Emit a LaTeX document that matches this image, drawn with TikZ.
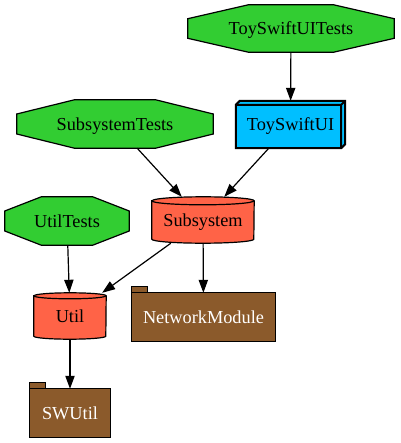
\documentclass[tikz,border=0pt]{standalone}
\usepackage{fontspec}
\setmainfont{Liberation Serif}
\usetikzlibrary{arrows.meta}
\usetikzlibrary{calc}
\usetikzlibrary{backgrounds}
\definecolor{testgreen}{HTML}{32CD32}
\definecolor{appblue}{HTML}{00BFFF}
\definecolor{modred}{HTML}{FF6347}
\definecolor{folderbrown}{HTML}{8B5A2B}
\tikzset{lbl/.style = {inner sep = 0, text height = 14pt, text depth = 1.6pt, font = \fontsize{18.3}{20}\selectfont}}
\tikzset{dep/.style = {-{Triangle[length=13pt, width=9.3pt]}, line width = 1.2pt}}
\tikzset{outline/.style = {draw = black, line width = 1.2pt}}

\begin{document}
\begin{tikzpicture}[x=1pt, y=1pt]
            \useasboundingbox (0,0) rectangle (400,-443);
            \node [lbl, minimum width=206pt, minimum height=47pt] (uitests) at (291,-28.5) {ToySwiftUITests};
            \node [lbl, minimum width=109pt, minimum height=47pt] (toyui) at (290.5,-124.5) {ToySwiftUI};
            \node [lbl, minimum width=196pt, minimum height=48pt] (subtests) at (115,-124) {SubsystemTests};
            \node [lbl, minimum width=124pt, minimum height=48pt] (utiltests) at (67,-221) {UtilTests};
            \node [lbl, minimum width=102pt, minimum height=46pt] (subsys) at (203,-220) {Subsystem};
            \node [lbl, minimum width=72pt, minimum height=46pt] (util) at (70,-316) {Util};
            \node [lbl, text=white, minimum width=143pt, minimum height=48pt] (netmod) at (203.5,-317) {NetworkModule};
            \node [lbl, text=white, minimum width=80pt, minimum height=48pt] (swutil) at (70,-413) {SWUtil};
            \begin{pgfonlayer}{background}
                % test targets
                \foreach \n in {uitests, subtests, utiltests}
                    \filldraw [outline, fill=testgreen] ($(\n.north)!.414!(\n.north west)$) -- ($(\n.north)!.414!(\n.north east)$) -- ($(\n.east)!.414!(\n.north east)$) -- ($(\n.east)!.414!(\n.south east)$) -- ($(\n.south)!.414!(\n.south east)$) -- ($(\n.south)!.414!(\n.south west)$) -- ($(\n.west)!.414!(\n.south west)$) -- ($(\n.west)!.414!(\n.north west)$) -- cycle;
                % app
                \filldraw [outline, line width=2pt, fill=appblue] (toyui.south west) -- ([yshift=-4pt]toyui.north west) -- ([xshift=4pt]toyui.north west) -- (toyui.north east) -- ([yshift=4pt]toyui.south east) -- ([xshift=-4pt]toyui.south east) -- cycle;
                \draw [outline, line width=2pt] ([yshift=-4pt]toyui.north west) -- ([shift={(-4pt,-4pt)}]toyui.north east) -- ([xshift=-4pt]toyui.south east) ([shift={(-4pt,-4pt)}]toyui.north east) -- (toyui.north east);
                % modules
                \foreach \n/\r/\h in {subsys/51pt/4pt, util/36pt/3pt} {
                    \filldraw [outline, fill=modred] ([yshift=-\h]\n.north west) -- ([yshift=\h]\n.south west) arc [start angle=180, end angle=360, x radius=\r, y radius=\h] -- ([yshift=-\h]\n.north east) arc [start angle=0, end angle=180, x radius=\r, y radius=\h] -- cycle;
                    \draw [outline] ([yshift=-\h]\n.north west) arc [start angle=180, end angle=360, x radius=\r, y radius=\h];
                }
                % packages
                \foreach \n in {netmod, swutil}
                    \filldraw [outline, fill=folderbrown] (\n.north west) rectangle ++(16,6) (\n.south west) rectangle (\n.north east);
            \end{pgfonlayer}
            \draw [dep] (uitests) -- (toyui);
            \draw [dep] (subtests) -- (subsys);
            \draw [dep] (toyui) -- (subsys);
            \draw [dep] (utiltests) -- (util);
            \draw [dep] (subsys) -- (util);
            \draw [dep] (subsys) -- (netmod);
            \draw [dep] (util) -- (swutil);
        \end{tikzpicture}
\end{document}
